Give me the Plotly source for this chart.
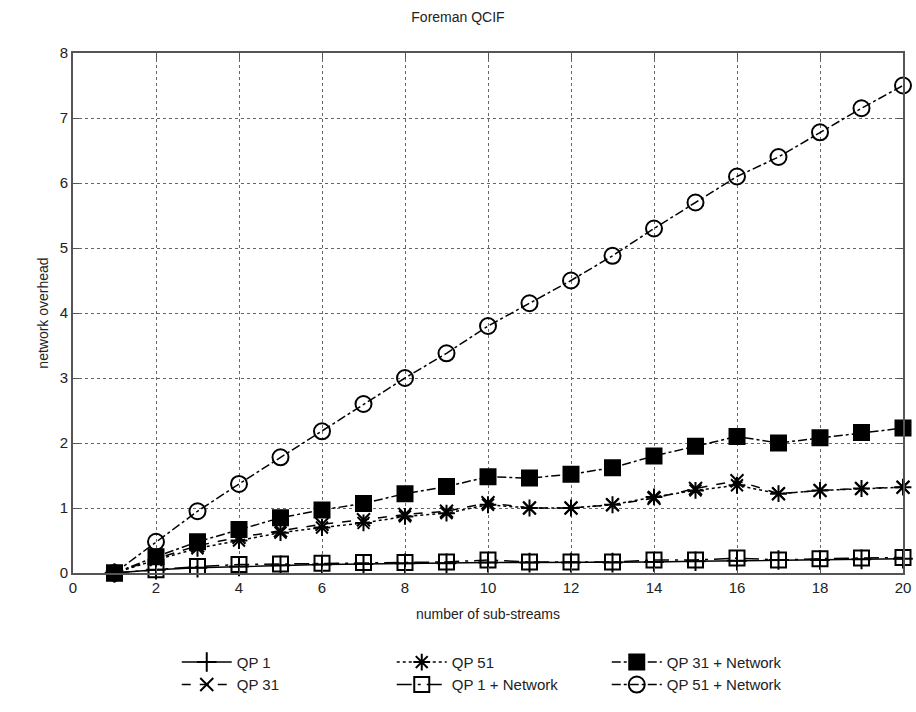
import plotly.graph_objects as go

# number of sub-streams
substreams = list(range(1, 21))

qp1 = [0, 0.05, 0.08, 0.10, 0.12, 0.13, 0.14, 0.15, 0.15, 0.16,
       0.16, 0.16, 0.16, 0.17, 0.18, 0.19, 0.20, 0.20, 0.21, 0.22]
qp31 = [0, 0.22, 0.42, 0.55, 0.65, 0.75, 0.82, 0.90, 0.95, 1.08,
        1.00, 1.00, 1.05, 1.15, 1.30, 1.42, 1.22, 1.27, 1.30, 1.32]
qp51 = [0, 0.20, 0.38, 0.50, 0.62, 0.70, 0.77, 0.87, 0.92, 1.05,
        1.00, 1.00, 1.05, 1.17, 1.27, 1.35, 1.22, 1.27, 1.30, 1.32]
qp1_net = [0, 0.05, 0.10, 0.13, 0.14, 0.15, 0.16, 0.16, 0.17, 0.20,
           0.17, 0.17, 0.17, 0.20, 0.20, 0.23, 0.20, 0.22, 0.23, 0.24]
qp31_net = [0, 0.25, 0.48, 0.67, 0.85, 0.97, 1.07, 1.22, 1.33, 1.48,
            1.46, 1.52, 1.62, 1.80, 1.95, 2.10, 2.00, 2.08, 2.16, 2.23]
qp51_net = [0, 0.48, 0.95, 1.37, 1.78, 2.18, 2.60, 3.00, 3.38, 3.80,
            4.15, 4.50, 4.88, 5.30, 5.70, 6.10, 6.40, 6.78, 7.15, 7.50]

# order chosen so the horizontal legend fills column by column like the original
series = [
    ('QP 1', qp1, 'solid', 'cross-thin-open', 14),
    ('QP 51', qp51, 'dot', 'asterisk-open', 14),
    ('QP 31 + Network', qp31_net, 'dashdot', 'square', 15),
    ('QP 31', qp31, 'dash', 'x-thin-open', 13),
    ('QP 1 + Network', qp1_net, 'longdashdot', 'square-open', 15),
    ('QP 51 + Network', qp51_net, 'dashdot', 'circle-open', 16),
]

fig = go.Figure()

for name, values, dash, symbol, size in series:
    fig.add_trace(go.Scatter(
        x=substreams,
        y=values,
        mode='lines+markers',
        name=name,
        line=dict(color='black', width=1.5, dash=dash),
        marker=dict(symbol=symbol, size=size, color='black',
                    line=dict(color='black', width=2)),
        cliponaxis=False
    ))

axis_style = dict(
    showline=True, linecolor='#555555', linewidth=2, mirror='ticks',
    ticks='inside', ticklen=6, tickcolor='#555555',
    showgrid=True, gridcolor='#666666', griddash='dot', gridwidth=1,
    zeroline=False, automargin=False,
    tickfont=dict(size=15, color='#222222')
)

fig.update_layout(
    width=916,
    height=712,
    title=dict(text='Foreman QCIF', x=0.5, xanchor='center', y=0.983,
               font=dict(size=14, color='#222222'), automargin=False),
    font=dict(family='Liberation Sans, Arial, sans-serif', color='#222222'),
    xaxis=dict(range=[0, 20], dtick=2,
               title=dict(text='number of sub-streams', font=dict(size=14), standoff=14),
               **axis_style),
    yaxis=dict(range=[0, 8], dtick=1,
               title=dict(text='network overhead', font=dict(size=14), standoff=8),
               **axis_style),
    legend=dict(orientation='h', x=0.125, xanchor='left', y=-0.14, yanchor='top',
                entrywidth=150, itemwidth=50,
                font=dict(size=15, color='#222222'),
                tracegroupgap=0),
    plot_bgcolor='white',
    paper_bgcolor='white',
    margin=dict(l=73, r=13, t=53, b=139, autoexpand=False)
)

# drop the default page margin so the 916x712 figure fills the window
fig.write_html("out.html",
               config={'displayModeBar': False},
               post_script="document.body.style.margin='0';document.body.style.overflow='hidden';")
